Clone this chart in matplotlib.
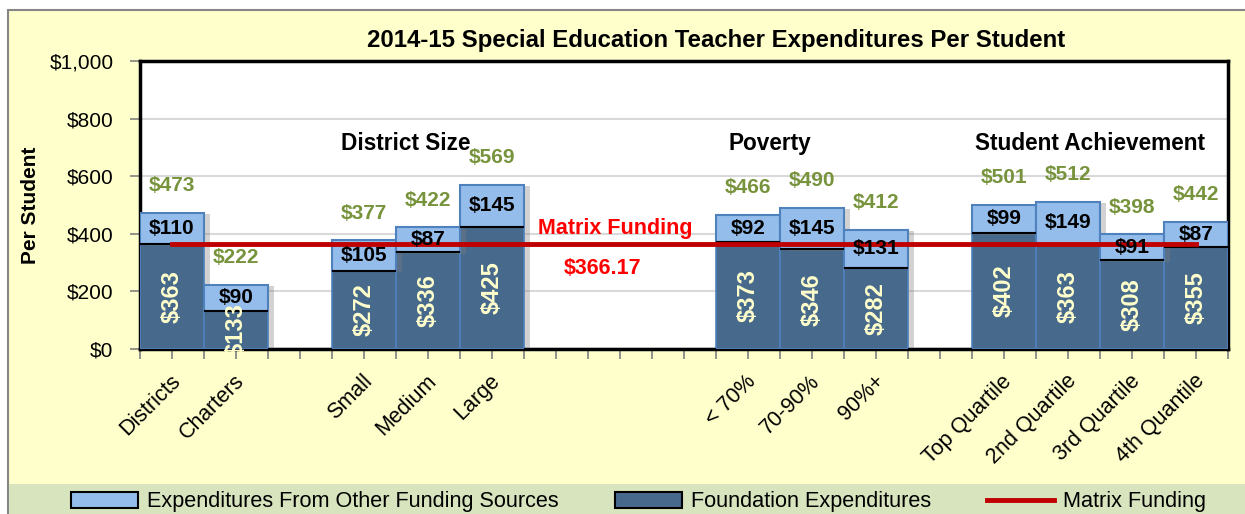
# -*- coding: utf-8 -*-
# Gasto en maestros de educacion especial por estudiante 2014-15

import matplotlib
matplotlib.use('Agg')
import matplotlib.pyplot as plt
import matplotlib.transforms as mtransforms
import matplotlib.patheffects as pe
from matplotlib.patches import Patch, Rectangle
from matplotlib.lines import Line2D

# Datos (las ranuras vacias separan los grupos)
categorias = ['Districts', 'Charters', '', 'Small', 'Medium', 'Large', '', '', '',
              '< 70%', '70-90%', '90%+', '', 'Top Quartile', '2nd Quartile',
              '3rd Quartile', '4th Quantile']
fundacion = [363, 133, 0, 272, 336, 425, 0, 0, 0, 373, 346, 282, 0, 402, 363, 308, 355]
otras_fuentes = [110, 90, 0, 105, 87, 145, 0, 0, 0, 92, 145, 131, 0, 99, 149, 91, 87]
totales = [473, 222, None, 377, 422, 569, None, None, None, 466, 490, 412, None,
           501, 512, 398, 442]
matriz = 366.17
grupos = ['District Size', 'Poverty', 'Student Achievement']
grupo_pos = [3.66, 9.34, 14.34]

FUENTE = ['Liberation Sans', 'DejaVu Sans']
plt.rcParams['font.family'] = FUENTE

color_oscuro = '#46698C'
color_claro = '#95BDEB'
color_verde = '#77933C'
color_crema = '#FFFFCC'
color_rojo = '#C00000'

fig = plt.figure(figsize=(12.45, 5.14), dpi=100)
fig.patch.set_facecolor('white')

# Fondo crema con borde gris
fig.patches.append(Rectangle((8 / 1245, -0.1), 2, 1 - 10 / 514 + 0.1,
                             transform=fig.transFigure, facecolor=color_crema,
                             edgecolor='#868686', lw=1.5, zorder=-3))
# Banda de la leyenda
fig.patches.append(Rectangle((9 / 1245, -0.1), 2, 0.1 + 30 / 514,
                             transform=fig.transFigure, facecolor='#D7E4BD',
                             edgecolor='none', zorder=-2))

ax = fig.add_axes([140 / 1245, 1 - 349 / 514, 1088 / 1245, 288 / 514])
ax.set_facecolor('white')

sombra = [pe.SimplePatchShadow(offset=(4, -1), shadow_rgbFace='#7F7F7F', alpha=0.35),
          pe.Normal()]

x = list(range(len(categorias)))
barras_f = ax.bar(x, fundacion, width=1.0, color=color_oscuro, edgecolor='#4F81BD',
                  lw=1.2, zorder=3)
barras_o = ax.bar(x, otras_fuentes, width=1.0, bottom=fundacion, color=color_claro,
                  edgecolor='#4F81BD', lw=1.5, zorder=3)
for b in list(barras_f) + list(barras_o):
    b.set_path_effects(sombra)
ax.hlines(fundacion, [i - 0.5 for i in x], [i + 0.5 for i in x],
          color='black', lw=1.5, zorder=4)

# Linea de financiamiento de la matriz
ax.plot(x, [matriz] * len(x), color=color_rojo, lw=3.5, zorder=5)

for i in x:
    if fundacion[i] == 0:
        continue
    ax.text(i, fundacion[i] / 2, '$%d' % fundacion[i], rotation=90,
            ha='center', va='center', color=color_crema, fontsize=17,
            fontweight='bold', zorder=6)
    ax.text(i, fundacion[i] + otras_fuentes[i] / 2, '$%d' % otras_fuentes[i],
            ha='center', va='center', color='black', fontsize=15,
            fontweight='bold', zorder=6)
    ax.text(i, totales[i] + 95, '$%d' % totales[i], ha='center', va='center',
            color=color_verde, fontsize=15, fontweight='bold', zorder=6)

for g, p in zip(grupos, grupo_pos):
    ax.text(p, 715, g, ha='center', va='center', fontsize=16.3,
            fontweight='bold', zorder=5)

ax.text(6.92, 420, 'Matrix Funding', ha='center', va='center', color='#FF0000',
        fontsize=15.5, fontweight='bold', zorder=6)
ax.text(6.73, 281, '$366.17', ha='center', va='center', color='#FF0000',
        fontsize=15.5, fontweight='bold', zorder=6)

ax.set_xlim(-0.5, len(categorias) - 0.5)
ax.set_ylim(0, 1000)
ax.set_yticks([0, 200, 400, 600, 800, 1000])
ax.set_yticklabels(['$0', '$200', '$400', '$600', '$800', '$1,000'], fontsize=15)
ax.yaxis.grid(True, color='#D9D9D9', lw=1.5, zorder=0)
ax.set_axisbelow(True)

ax.set_xticks(x)
ax.set_xticks([i - 0.5 for i in range(len(categorias) + 1)], minor=True)
ax.set_xticklabels(categorias, rotation=45, ha='right', va='center',
                   rotation_mode='anchor', fontsize=15.5)
ax.tick_params(axis='x', which='both', length=7, color='#808080', width=1.2)
ax.tick_params(axis='x', which='major', pad=14)
ax.tick_params(axis='y', length=7, color='#808080', width=1.2, pad=12)
desplazar = mtransforms.ScaledTranslation(5 / 100, 0, fig.dpi_scale_trans)
for etiqueta in ax.get_xticklabels():
    etiqueta.set_transform(etiqueta.get_transform() + desplazar)

for lado in ax.spines.values():
    lado.set_color('black')
    lado.set_linewidth(2.5)

ax.set_ylabel('Per Student', fontsize=15, fontweight='bold', labelpad=7)

fig.text(716 / 1245, 1 - 40 / 514, '2014-15 Special Education Teacher Expenditures Per Student',
         ha='center', va='center', fontsize=17.3, fontweight='bold')

manijas = [Patch(facecolor=color_claro, edgecolor='black', lw=1.5),
           Patch(facecolor=color_oscuro, edgecolor='black', lw=1.5),
           Line2D([0], [0], color=color_rojo, lw=3.5)]
nombres = ['Expenditures From Other Funding Sources', 'Foundation Expenditures',
           'Matrix Funding']
fig.legend(manijas, nombres, loc='center', ncol=3, frameon=False, fontsize=15.6,
           bbox_to_anchor=(0.5129, 1 - 502 / 514), handlelength=3.1,
           handleheight=0.8, handletextpad=0.4, columnspacing=2.6)

plt.savefig('out.png', dpi=100)
